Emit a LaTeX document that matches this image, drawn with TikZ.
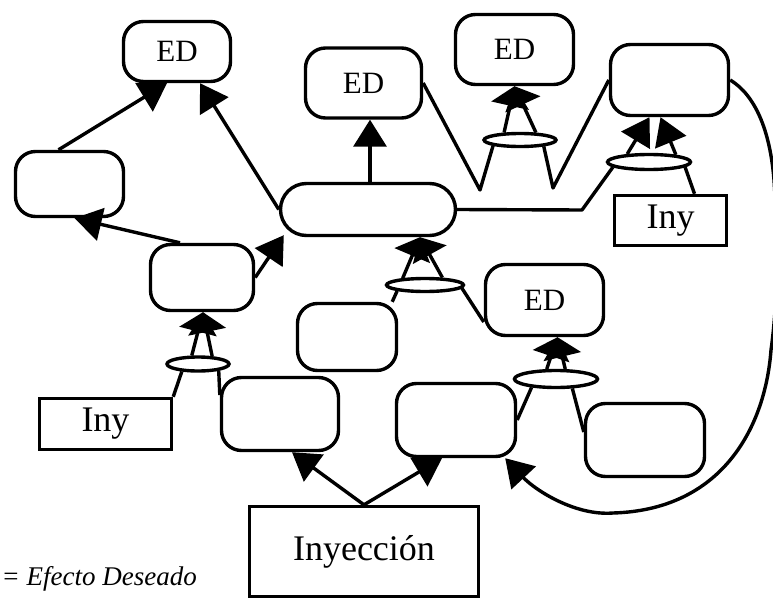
\documentclass[tikz,border=0pt]{standalone}
\usepackage{fontspec}
\setmainfont{Liberation Serif}
\usetikzlibrary{arrows.meta,shapes.geometric}
\begin{document}
\begin{tikzpicture}[x=1pt,y=-1pt,
  every node/.style={inner sep=0pt, line width=3.4pt},
  rbox/.style={draw, rectangle, rounded corners=20pt},
  sbox/.style={draw, rectangle},
  junc/.style={draw, ellipse},
  lbl/.style={font=\fontsize{31}{31}\selectfont},
  big/.style={font=\fontsize{36}{36}\selectfont},
  link/.style={line width=3.4pt, line join=round},
  arr/.style={link, -{Triangle[length=27pt,width=33pt]}},
  jarr/.style={link, -{Triangle[length=20pt,width=38pt]}},
]
\fill[white] (0,0) rectangle (773,599);
\useasboundingbox (0,0) rectangle (773,599);

% rounded boxes
\node[rbox, minimum width=107pt, minimum height=60pt, lbl] (edA) at (177,51.5) {ED};
\node[rbox, minimum width=116pt, minimum height=70pt, lbl] (edB) at (363.5,83) {ED};
\node[rbox, minimum width=118pt, minimum height=70pt, lbl] (edC) at (514.5,49.5) {ED};
\node[rbox, minimum width=118pt, minimum height=71pt] (boxTR) at (669.5,80) {};
\node[rbox, minimum width=108pt, minimum height=65pt] (boxL) at (69.5,184) {};
\node[rbox, rounded corners=26pt, minimum width=175pt, minimum height=52pt] (boxC) at (368,209.5) {};
\node[rbox, minimum width=103pt, minimum height=66pt] (boxM) at (202,277.5) {};
\node[rbox, minimum width=99pt, minimum height=67pt] (boxN) at (347,337) {};
\node[rbox, minimum width=118pt, minimum height=71pt, lbl] (edD) at (544.5,300) {ED};
\node[rbox, minimum width=117pt, minimum height=73pt] (boxP) at (280,414) {};
\node[rbox, minimum width=119pt, minimum height=73pt] (boxQ) at (456,420) {};
\node[rbox, minimum width=119pt, minimum height=73pt] (boxR) at (645,440) {};

% square boxes
\node[sbox, minimum width=112pt, minimum height=50pt, big] (inyR) at (670.5,220.5) {Iny};
\node[sbox, minimum width=132pt, minimum height=51pt, big] (inyL) at (105.5,424) {Iny};
\node[sbox, minimum width=229pt, minimum height=90pt, big] (inyec) at (364,551.5) {Inyección};

% AND junctions
\node[junc, minimum width=77pt, minimum height=13pt] (jA) at (425,285) {};
\node[junc, minimum width=72pt, minimum height=13pt] (jB) at (520,140) {};
\node[junc, minimum width=83pt, minimum height=15pt] (jC) at (649,162) {};
\node[junc, minimum width=62pt, minimum height=14pt] (jD) at (198,364) {};
\node[junc, minimum width=83pt, minimum height=17pt] (jE) at (556,379) {};

% bend points
\coordinate (v1) at (480,190);
\coordinate (v2) at (553,188);
\coordinate (v3) at (582,210);

% simple arrows
\draw[arr] ([xshift=-11pt]boxL.north) -- ([xshift=-10pt]edA.south);
\draw[arr] (boxC.west) -- ([xshift=23pt]edA.south);
\draw[arr] ([xshift=-22pt]boxM.north) -- ([xshift=5pt]boxL.south);
\draw[arr] (boxM.east) -- ([xshift=5pt,yshift=2pt]boxC.south west);
\draw[arr] ([xshift=2pt]boxC.north) -- ([xshift=6.5pt]edB.south);
\draw[arr] (inyec.north) -- ([xshift=12pt]boxP.south);
\draw[arr] (inyec.north) -- ([xshift=-14pt]boxQ.south);

% junction B
\draw[link] (edB.east) -- (v1) -- (jB.192);
\draw[link] (boxTR.west) -- (v2) -- (jB.345);
\draw[jarr] (jB.155) -- (edC.south);
\draw[jarr] (jB.25) -- (edC.south);

% junction C
\draw[link] (boxC.east) -- (v3) -- (jC.188);
\draw[link] ([xshift=24pt]inyR.north) -- (jC.352);
\draw[arr] (jC.160) -- ([xshift=-20pt]boxTR.south);
\draw[arr] (jC.15) -- ([xshift=-9pt]boxTR.south);

% junction A
\draw[link] ([xshift=-6pt]boxN.north east) -- (jA.192);
\draw[link] ([yshift=-22pt]edD.west) -- (jA.355);
\draw[jarr] (jA.163) -- ([xshift=52pt]boxC.south);
\draw[jarr] (jA.23) -- ([xshift=52pt]boxC.south);

% junction E
\draw[link] (boxQ.east) -- (jE.199);
\draw[link] ([yshift=8pt]boxR.west) -- (jE.330);
\draw[jarr] (jE.133) -- ([xshift=13pt]edD.south);
\draw[jarr] (jE.47) -- ([xshift=13pt]edD.south);

% junction D
\draw[link] (inyL.north east) -- (jD.205);
\draw[link] ([yshift=19pt]boxP.west) -- (jD.342);
\draw[jarr] (jD.126) -- ([xshift=1pt]boxM.south);
\draw[jarr] (jD.29) -- ([xshift=1pt]boxM.south);

% long return curve
\draw[arr] (boxTR.east) .. controls (755,95) and (770,130) .. (774,180)
  .. controls (778,240) and (778,300) .. (771,350)
  .. controls (765,430) and (720,510) .. (613,513)
  .. controls (575,516) and (535,490) .. ([xshift=-12pt]boxQ.south east);

% legend
\node[anchor=base west, font=\fontsize{27}{27}\selectfont\itshape] (legend) at (0,585) {= Efecto Deseado};
\end{tikzpicture}
\end{document}
